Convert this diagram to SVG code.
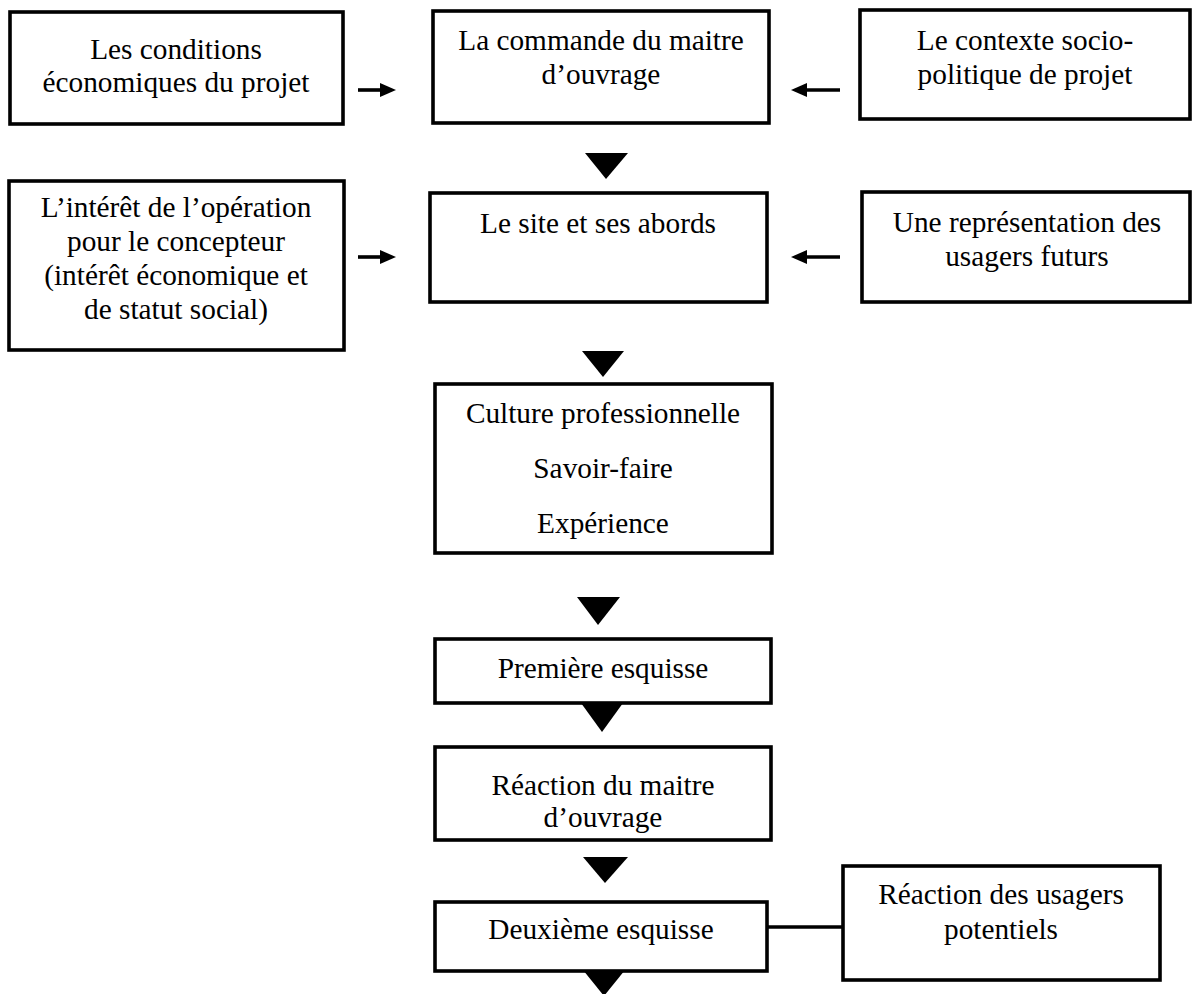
<svg xmlns="http://www.w3.org/2000/svg" width="1192" height="994" viewBox="0 0 1192 994">
<style>
.box{fill:#fff;stroke:#000;stroke-width:3.6}
.t{font-family:"Liberation Serif","Times New Roman",serif;font-size:29.3px;fill:#000;text-anchor:middle}
.ln{stroke:#000;stroke-width:3.6;fill:none}
.tri{fill:#000}
</style>
<rect width="1192" height="994" fill="#fff"/>
<g id="n1"><rect class="box" x="10" y="12" width="333" height="112"/>
<text class="t" x="176" y="59">Les conditions</text><text class="t" x="176" y="92">économiques du projet</text></g>
<g id="n2"><rect class="box" x="433" y="11" width="336" height="112"/>
<text class="t" x="601" y="50">La commande du maitre</text><text class="t" x="601" y="84">d’ouvrage</text></g>
<g id="n3"><rect class="box" x="860" y="10" width="330" height="109"/>
<text class="t" x="1025" y="50">Le contexte socio-</text><text class="t" x="1025" y="84">politique de projet</text></g>
<g id="n4"><rect class="box" x="9" y="181" width="335" height="169"/>
<text class="t" x="176" y="217">L’intérêt de l’opération</text><text class="t" x="176" y="251">pour le concepteur</text><text class="t" x="176" y="285">(intérêt économique et</text><text class="t" x="176" y="319">de statut social)</text></g>
<g id="n5"><rect class="box" x="430" y="193" width="337" height="109"/>
<text class="t" x="598" y="233">Le site et ses abords</text></g>
<g id="n6"><rect class="box" x="862" y="192" width="328" height="110"/>
<text class="t" x="1027" y="232">Une représentation des</text><text class="t" x="1027" y="266">usagers futurs</text></g>
<g id="n7"><rect class="box" x="435" y="384" width="337" height="169"/>
<text class="t" x="603" y="423">Culture professionnelle</text><text class="t" x="603" y="478">Savoir-faire</text><text class="t" x="603" y="533">Expérience</text></g>
<g id="n8"><rect class="box" x="435" y="639" width="336" height="64"/>
<text class="t" x="603" y="678">Première esquisse</text></g>
<g id="n9"><rect class="box" x="435" y="747" width="336" height="93"/>
<text class="t" x="603" y="795">Réaction du maitre</text><text class="t" x="603" y="827">d’ouvrage</text></g>
<g id="n10"><rect class="box" x="435" y="902" width="332" height="69"/>
<text class="t" x="601" y="939">Deuxième esquisse</text></g>
<g id="n11"><rect class="box" x="843" y="866" width="317" height="114"/>
<text class="t" x="1001" y="904">Réaction des usagers</text><text class="t" x="1001" y="939">potentiels</text></g>
<g id="connectors">
<line class="ln" x1="358" y1="90" x2="384" y2="90"/><polygon class="tri" points="380,83 396,90 380,97"/>
<line class="ln" x1="840" y1="90" x2="803" y2="90"/><polygon class="tri" points="807,83 791,90 807,97"/>
<line class="ln" x1="358" y1="257" x2="384" y2="257"/><polygon class="tri" points="380,250 396,257 380,264"/>
<line class="ln" x1="840" y1="257" x2="803" y2="257"/><polygon class="tri" points="807,250 791,257 807,264"/>
<polygon class="tri" points="585,153 628,153 606,179"/>
<polygon class="tri" points="582,351 624,351 603,377"/>
<polygon class="tri" points="577,597 620,597 598,625"/>
<polygon class="tri" points="581,703 623,703 602,732"/>
<polygon class="tri" points="583,857 628,857 605,883"/>
<polygon class="tri" points="583,970 625,970 604,996"/>
<line class="ln" x1="768" y1="927" x2="843" y2="927"/>
</g>
</svg>
